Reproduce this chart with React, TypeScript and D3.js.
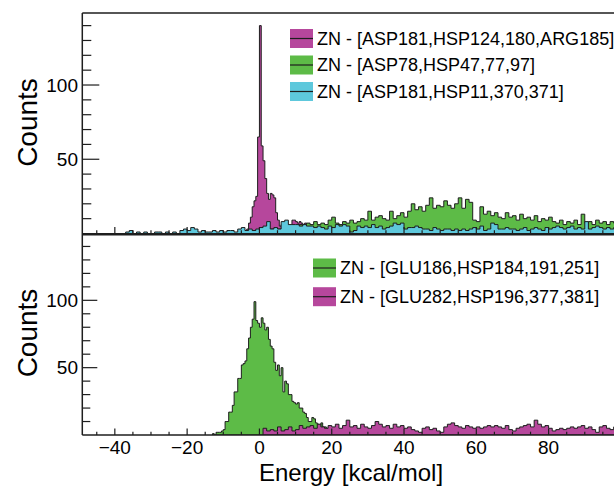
import React from "react";
import * as d3 from "d3";

// histogram contents (counts per bin)
const magentaTopStart = -6; // bin width 0.5
const magentaTop = [
  0, 1, 0, 1, 2, 3, 7, 11, 18, 22, 25, 65, 140, 59, 49, 37, 27, 23, 27, 26, 24,
  14, 9, 5, 6, 4, 5, 6, 4, 5, 9, 9, 8, 7, 8, 7, 6, 7, 6, 5, 5, 3, 4, 2, 3, 1, 2, 1,
];

const greenTopStart = -5; // bin width 1
const greenTop = [
  1, 0, 1, 2, 1, 2, 3, 2, 3, 2,
  3, 3, 4, 4, 5, 5, 6, 5, 7, 6,
  8, 6, 7, 6, 9, 11, 7, 6, 8, 7,
  9, 7, 8, 10, 9, 15, 9, 11, 12, 10,
  9, 15, 10, 12, 14, 11, 15, 20, 16, 18,
  15, 19, 24, 17, 19, 18, 22, 19, 17, 20,
  24, 17, 23, 21, 9, 8, 18, 13, 15, 12,
  14, 11, 10, 14, 11, 12, 9, 13, 10, 11,
  9, 12, 8, 10, 9, 11, 8, 7, 9, 6,
  8, 7, 9, 6, 13, 7, 8, 6, 9, 7,
  8, 6, 8, 7,
];

const cyanTopStart = -37; // bin width 1
const cyanTop = [
  1, 2, 0, 1, 0, 1, 0, 0, 1, 1,
  0, 1, 0, 1, 0, 2, 3, 2, 4, 3,
  1, 2, 1, 1, 2, 1, 2, 1, 2, 2,
  1, 3, 4, 2, 3, 2, 3, 4, 5, 8,
  3, 4, 3, 8, 9, 6, 6, 6, 5, 6,
  5, 5, 4, 5, 4, 3, 5, 4, 6, 5,
  6, 5, 1, 2, 5, 4, 5, 4, 6, 4,
  5, 3, 4, 5, 7, 6, 7, 3, 4, 4,
  5, 4, 3, 3, 2, 4, 3, 2, 3, 3,
  2, 3, 2, 3, 2, 3, 4, 3, 5, 2,
  3, 7, 6, 3, 3, 4, 3, 3, 2, 3,
  4, 2, 3, 4, 3, 2, 4, 3, 4, 5,
  4, 3, 4, 5, 3, 4, 3, 8, 3, 4,
  5, 4, 3, 4, 3, 4,
];

const greenBottomStart = -13; // bin width 0.5
const greenBottom = [
  1, 0, 2, 2, 2, 3, 4, 10, 10, 17, 17, 22, 32, 32, 42, 42, 52, 53, 55, 64, 72,
  80, 86, 99, 85, 83, 80, 87, 83, 78, 80, 71, 66, 64, 54, 48, 52, 44, 50, 32,
  40, 38, 30, 30, 25, 24, 23, 24, 20, 20, 17, 16, 13, 10, 10, 13, 12, 9, 8, 7,
  9, 6, 6, 5, 4, 4, 3, 2, 3, 1, 1, 0, 1,
];

const magentaBottomStart = 1; // bin width 1
const magentaBottom = [
  5, 3, 4, 3, 6, 3, 4, 6, 3, 4,
  7, 5, 6, 7, 5, 8, 6, 5, 7, 6,
  8, 5, 7, 11, 6, 7, 5, 8, 6, 5,
  7, 10, 8, 6, 7, 5, 8, 6, 7, 5,
  6, 4, 3, 2, 5, 6, 4, 5, 3, 2,
  6, 8, 9, 7, 6, 5, 7, 6, 5, 6,
  5, 6, 7, 6, 7, 6, 5, 7, 4, 3,
  5, 6, 7, 8, 6, 11, 8, 6, 7, 5,
  3, 4, 5, 4, 5, 6, 5, 6, 7, 5,
  6, 4, 2, 6, 7, 5, 4, 6,
];

const topLabels = [
  "ZN - [ASP181,HSP124,180,ARG185]",
  "ZN - [ASP78,HSP47,77,97]",
  "ZN - [ASP181,HSP11,370,371]",
];
const bottomLabels = ["ZN - [GLU186,HSP184,191,251]", "ZN - [GLU282,HSP196,377,381]"];

const xTickLabels = [-40, -20, 0, 20, 40, 60, 80];
const yTickLabels = [50, 100];

const MAGENTA = "#b6479c";
const GREEN = "#5dbb47";
const CYAN = "#5ec8dc";
const LINE = "#1e1e1e";
const FONT = "'Liberation Sans', Arial, Helvetica, sans-serif";

const x = d3.scaleLinear().domain([-49, 99]).range([82.3, 617.3]);
const yTop = d3.scaleLinear().domain([0, 148.5]).range([233.5, 13]);
const yBot = d3.scaleLinear().domain([0, 148.5]).range([435, 235]);

function histPath(start: number, w: number, counts: number[], y: d3.ScaleLinear<number, number>) {
  const pts = counts.map((c, i) => ({ e: start + i * w, c }));
  pts.push({ e: start + counts.length * w, c: counts[counts.length - 1] });
  const area = d3
    .area<{ e: number; c: number }>()
    .curve(d3.curveStepAfter)
    .x((d) => x(d.e))
    .y0(y(0))
    .y1((d) => y(d.c));
  return area(pts) || "";
}

function Panel({ y, top, bottom, big, small, id, children }: any) {
  const minors = d3.range(10, 141, 10).filter((v) => v % 50 !== 0);
  const xMinors = d3.range(-45, 99, 5);
  return (
    <g>
      <clipPath id={id}>
        <rect x={82.3} y={top} width={540} height={bottom - top} />
      </clipPath>
      <g clipPath={`url(#${id})`}>{children}</g>
      {minors.map((v) => (
        <line key={"m" + v} x1={82.3} x2={82.3 + small} y1={y(v)} y2={y(v)} stroke={LINE} strokeWidth={1.2} />
      ))}
      {yTickLabels.map((v) => (
        <g key={"M" + v}>
          <line x1={82.3} x2={82.3 + big} y1={y(v)} y2={y(v)} stroke={LINE} strokeWidth={1.2} />
          <text x={78} y={y(v)} textAnchor="end" dominantBaseline="central" fontSize={19} fontFamily={FONT}>
            {v}
          </text>
        </g>
      ))}
      {xMinors.map((v) => (
        <line
          key={"x" + v}
          x1={x(v)}
          x2={x(v)}
          y1={bottom}
          y2={bottom - (v % 20 === 0 ? 6.5 : 3.3)}
          stroke={LINE}
          strokeWidth={1.2}
        />
      ))}
    </g>
  );
}

function Legend({ x0, y0, gap, labels, colors }: any) {
  return (
    <g fontFamily={FONT} fontSize={18}>
      {labels.map((l: string, i: number) => (
        <g key={l} transform={`translate(${x0},${y0 + i * gap})`}>
          <rect x={0} y={-9.5} width={23} height={19} fill={colors[i]} />
          <line x1={0} x2={23} y1={0} y2={0} stroke={LINE} strokeWidth={1.2} />
          <text x={27} y={0} dominantBaseline="central">
            {l}
          </text>
        </g>
      ))}
    </g>
  );
}

export default function App() {
  return (
    <svg width={614} height={488} style={{ position: "absolute", left: 0, top: 0, background: "#fff" }}>
      <rect width={614} height={488} fill="#fff" />
      <Panel y={yTop} top={13} bottom={233.5} big={17} small={9} id="clipTop">
        <path d={histPath(magentaTopStart, 0.5, magentaTop, yTop)} fill={MAGENTA} stroke={LINE} strokeWidth={1} />
        <path d={histPath(greenTopStart, 1, greenTop, yTop)} fill={GREEN} stroke={LINE} strokeWidth={1} />
        <path d={histPath(cyanTopStart, 1, cyanTop, yTop)} fill={CYAN} stroke={LINE} strokeWidth={1} />
      </Panel>
      <Panel y={yBot} top={235} bottom={435} big={15} small={8} id="clipBot">
        <path d={histPath(greenBottomStart, 0.5, greenBottom, yBot)} fill={GREEN} stroke={LINE} strokeWidth={1} />
        <path d={histPath(magentaBottomStart, 1, magentaBottom, yBot)} fill={MAGENTA} stroke={LINE} strokeWidth={1} />
      </Panel>

      {/* frames */}
      <line x1={82.3} x2={614} y1={13} y2={13} stroke={LINE} strokeWidth={1.3} />
      <line x1={82.3} x2={82.3} y1={13} y2={435} stroke={LINE} strokeWidth={1.5} />
      <line x1={82.3} x2={614} y1={234.2} y2={234.2} stroke={LINE} strokeWidth={2.5} />
      <line x1={82.3} x2={614} y1={435} y2={435} stroke={LINE} strokeWidth={1.5} />

      <Legend x0={290} y0={38.5} gap={26.5} labels={topLabels} colors={[MAGENTA, GREEN, CYAN]} />
      <Legend x0={313} y0={268} gap={28.7} labels={bottomLabels} colors={[GREEN, MAGENTA]} />

      {xTickLabels.map((v) => (
        <text key={v} x={x(v)} y={453.5} textAnchor="middle" fontSize={19} fontFamily={FONT}>
          {v < 0 ? "\u2212" + Math.abs(v) : v}
        </text>
      ))}
      <text x={259} y={481} fontSize={24} fontFamily={FONT}>
        Energy [kcal/mol]
      </text>
      <text transform="translate(37,122.5) rotate(-90)" textAnchor="middle" fontSize={28} fontFamily={FONT}>
        Counts
      </text>
      <text transform="translate(37,333) rotate(-90)" textAnchor="middle" fontSize={28} fontFamily={FONT}>
        Counts
      </text>
    </svg>
  );
}
